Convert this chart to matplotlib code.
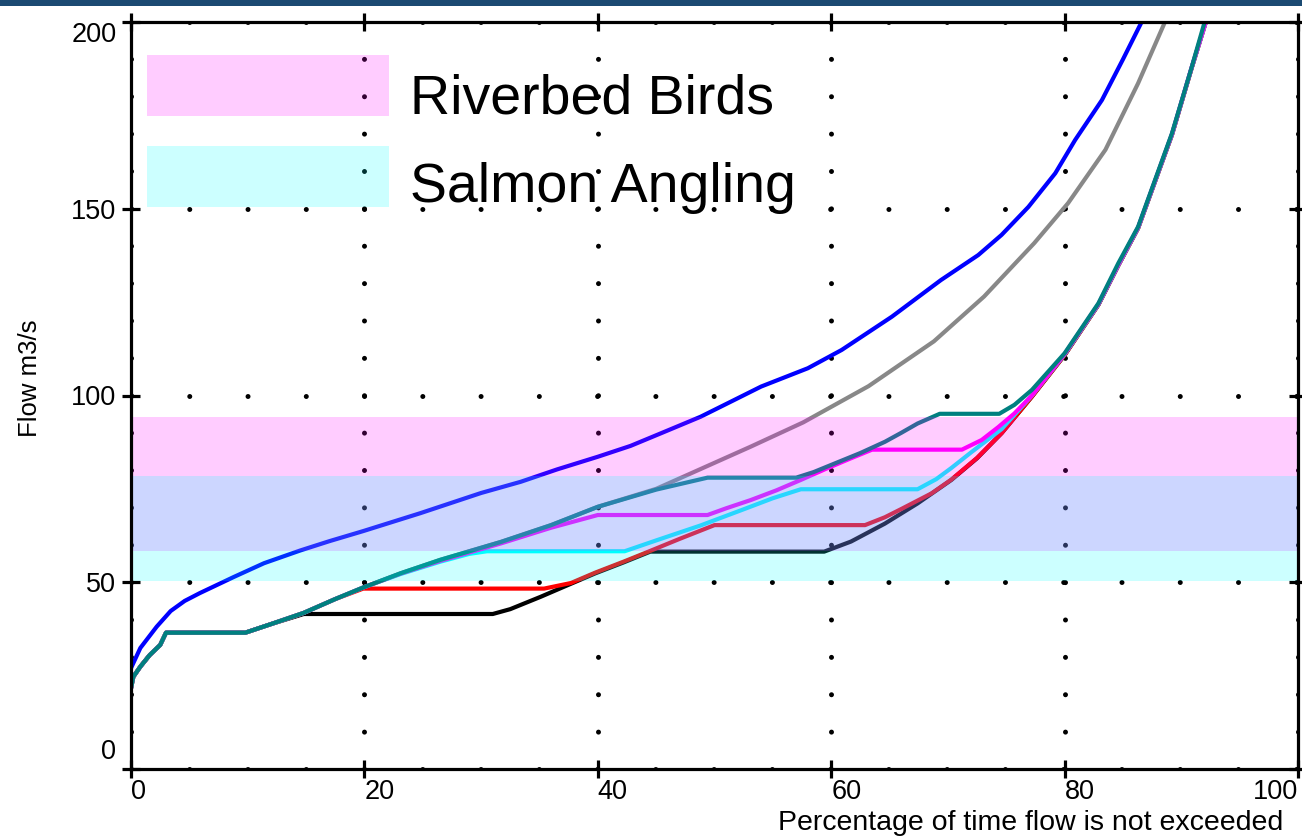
import numpy as np
import matplotlib
matplotlib.use('Agg')
import matplotlib.pyplot as plt
from matplotlib.patches import Rectangle
import matplotlib.transforms as mtrans

plt.rcParams['font.family'] = ['Liberation Sans', 'DejaVu Sans']
plt.rcParams['lines.scale_dashes'] = False

# flow duration curves (x: % of time flow not exceeded, y: flow m3/s)
black_x = [0, 0.2, 0.8, 1.6, 2.5, 3.0, 9.8, 12, 14.8, 31.0, 32.5, 35.1, 37.7, 39.8, 42.2, 44.5,
           59.4, 61.7, 64.6, 67.4, 70.3, 72.5, 74.6, 77.2, 80, 82.9, 84.6, 86.3, 89.2, 90.9, 92.1]
black_y = [21.6, 24.7, 27.4, 30.5, 33.2, 36.5, 36.5, 38.8, 41.5, 41.5, 42.8, 46.1, 49.6, 52.4, 55.3, 58.2,
           58.2, 60.9, 65.7, 71.1, 77.4, 83.2, 89.9, 99.7, 110.8, 124.3, 134.8, 144.8, 169.8, 187.8, 200]

red_x = [0, 0.2, 0.8, 1.6, 2.5, 3.0, 9.8, 12, 14.8, 17.5, 19.9, 20.8, 35.4, 37.7, 39.8, 42.2, 44.5, 47, 50,
         62.9, 64.6, 66, 68.6, 70.3, 72.5, 74.6, 77.2, 80, 82.9, 84.6, 86.3, 89.2, 90.9, 92.1]
red_y = [21.6, 24.7, 27.4, 30.5, 33.2, 36.5, 36.5, 38.8, 41.8, 45.5, 48.3, 48.3, 48.3, 49.8, 52.6, 55.5, 58.4, 61.6, 65.3,
         65.3, 67.4, 69.6, 73.8, 77.5, 83.3, 89.9, 99.7, 110.8, 124.3, 134.8, 144.8, 169.8, 187.8, 200]

cyan_x = [0, 0.2, 0.8, 1.6, 2.5, 3.0, 9.8, 12, 14.8, 17.5, 19.9, 23.1, 26.5, 29, 30.5, 42.3, 45, 48.8, 52.3, 55, 57.4,
          67.4, 69, 70.3, 72, 74.6, 77.2, 80, 82.9, 84.6, 86.3, 89.2, 90.9, 92.1]
cyan_y = [21.6, 24.7, 27.4, 30.5, 33.2, 36.5, 36.5, 38.8, 41.8, 45.5, 48.6, 52.2, 55.5, 57.6, 58.3, 58.3, 61.2, 65.2, 69.3, 72.5, 74.9,
          74.9, 77.6, 80.6, 84.8, 91.0, 100.0, 111.0, 124.4, 134.9, 144.9, 169.9, 187.9, 200]

magenta_x = [0, 0.2, 0.8, 1.6, 2.5, 3.0, 9.8, 12, 14.8, 17.5, 19.9, 23.1, 26.5, 31.7, 36, 40, 49.4, 51, 53.1, 55.3, 57.4,
             59.5, 61.7, 63.5, 71.2, 72.9, 74.3, 75.7, 77.2, 80, 82.9, 84.6, 86.3, 89.2, 90.9, 92.1]
magenta_y = [21.6, 24.7, 27.4, 30.5, 33.2, 36.5, 36.5, 38.8, 41.8, 45.5, 48.6, 52.3, 55.7, 60.4, 64.6, 68.0, 68.0, 69.8, 72.0, 74.6, 77.4,
             80.3, 83.2, 85.5, 85.5, 88.1, 91.5, 95.2, 100.0, 111.1, 124.5, 135.0, 145.0, 170.0, 188.0, 200]

gray_x = [0, 0.2, 0.8, 1.6, 2.5, 3.0, 9.8, 12, 14.8, 17.5, 19.9, 23.1, 26.5, 31.7, 36, 40, 45, 48.8, 53.1, 57.6,
          63.2, 68.8, 73.1, 77.4, 80.3, 83.5, 86.3, 88.6]
gray_y = [21.6, 24.7, 27.4, 30.5, 33.2, 36.5, 36.5, 38.8, 41.8, 45.5, 48.6, 52.4, 56.0, 60.8, 65.3, 70.2, 75.0, 80.3, 86.3, 92.8,
          102.5, 114.5, 126.5, 140.8, 151.5, 165.8, 183.6, 200]

teal_x = [0, 0.2, 0.8, 1.6, 2.5, 3.0, 9.8, 12, 14.8, 17.5, 19.9, 23.1, 26.5, 31.7, 36, 40, 45, 49.4, 57, 58.5,
          60.3, 62.5, 64.6, 66, 67.4, 69.3, 74.4, 75.7, 77.2, 80, 82.9, 84.6, 86.3, 89.2, 90.9, 92.0]
teal_y = [21.6, 24.7, 27.4, 30.5, 33.2, 36.5, 36.5, 38.8, 41.8, 45.5, 48.6, 52.4, 56.0, 60.8, 65.3, 70.2, 74.8, 78.0, 78.0, 79.5,
          81.8, 84.6, 87.6, 90.0, 92.5, 95.1, 95.1, 97.5, 101.5, 111.3, 124.7, 135.4, 145.2, 170.2, 188.0, 200]

blue_x = [0, 0.8, 2.2, 3.4, 4.6, 5.9, 8.8, 11.4, 14.5, 17, 19.9, 24.8, 30, 33.4, 36.5, 40, 42.8, 45.5, 48.8, 51.5,
          54, 58, 60.9, 65.2, 69.4, 72.6, 74.6, 76.9, 79.2, 80.9, 83.2, 85, 86.6]
blue_y = [27.0, 32.4, 38.1, 42.3, 45.0, 47.1, 51.4, 55.1, 58.5, 61.0, 63.7, 68.5, 73.9, 76.9, 80.2, 83.6, 86.5, 90.0, 94.3, 98.5,
          102.4, 107.3, 112.2, 121.1, 130.9, 137.6, 143.0, 150.5, 159.5, 168.4, 179.1, 190.0, 200]

series = [
    (black_x, black_y, '#000000'),
    (red_x, red_y, '#FF0000'),
    (cyan_x, cyan_y, '#00FFFF'),
    (magenta_x, magenta_y, '#FF00FF'),
    (gray_x, gray_y, '#888888'),
    (teal_x, teal_y, '#008080'),
    (blue_x, blue_y, '#0000FF'),
]

# flow bands
band_labels = ['Riverbed Birds', 'Salmon Angling']
band_lo = [58.4, 50.3]
band_hi = [94.2, 78.4]
band_colors = ['#FF00FF', '#00FFFF']

x_ticks = [0, 20, 40, 60, 80, 100]
y_ticks = [0, 50, 100, 150, 200]

fig = plt.figure(figsize=(13.02, 8.39), dpi=100)
fig.patches.append(Rectangle((0, 1 - 6 / 839), 1, 6 / 839, transform=fig.transFigure,
                             facecolor='#1B4A72', edgecolor='none'))
ax = fig.add_axes([131 / 1302, 1 - 769 / 839, 1167 / 1302, 747 / 839])

for xs, ys, c in series:
    ax.plot(xs, ys, color=c, lw=3.0, zorder=3, solid_joinstyle='round')

for lo, hi, c in zip(band_lo, band_hi, band_colors):
    ax.axhspan(lo, hi, color=c, alpha=0.2, lw=0, zorder=5)

ax.set_xlim(0, 100)
ax.set_ylim(0, 200)
ax.set_xticks(x_ticks)
ax.set_yticks(y_ticks)

# dotted grid
ax.xaxis.grid(True, color='black', lw=3.6, linestyle=(0, (0.01, 26.9)), dash_capstyle='round', zorder=1)
ax.yaxis.grid(True, color='black', lw=3.6, linestyle=(0, (0.01, 41.94)), dash_capstyle='round', zorder=1)
ax.set_axisbelow(True)

for s in ax.spines.values():
    s.set_linewidth(2.3)
    s.set_zorder(6)
ax.tick_params(direction='inout', length=13, width=2.3, labelsize=19.5,
               top=True, right=True, pad=1)
ax.tick_params(axis='y', pad=4)

# tick label alignment like the original
xl = ax.get_xticklabels()
for i, t in enumerate(xl):
    t.set_ha('right' if i == len(xl) - 1 else 'left')
yl = ax.get_yticklabels()
yl[0].set_transform(yl[0].get_transform() + mtrans.ScaledTranslation(0, 20 / 100, fig.dpi_scale_trans))
yl[-1].set_va('top')

# legend boxes
rows = [(0.874, 0.878), (0.752, 0.759)]
for (rb, tb), lab, c in zip(rows, band_labels, band_colors):
    ax.add_patch(Rectangle((0.0137, rb), 0.2074, 0.0817, transform=ax.transAxes,
                           facecolor=c, alpha=0.2, edgecolor='none', zorder=5))
    ax.text(0.239, tb, lab, transform=ax.transAxes, fontsize=40, va='baseline', ha='left',
            family=['Liberation Sans Narrow', 'Liberation Sans'], zorder=7)

fig.text(1283 / 1302, 1 - 830 / 839, 'Percentage of time flow is not exceeded',
         fontsize=20.5, ha='right', va='baseline')
fig.text(30 / 1302, 1 - 378 / 839, 'Flow m3/s', fontsize=18.5, rotation=90,
         ha='center', va='center')

fig.savefig('out.png', dpi=100)
